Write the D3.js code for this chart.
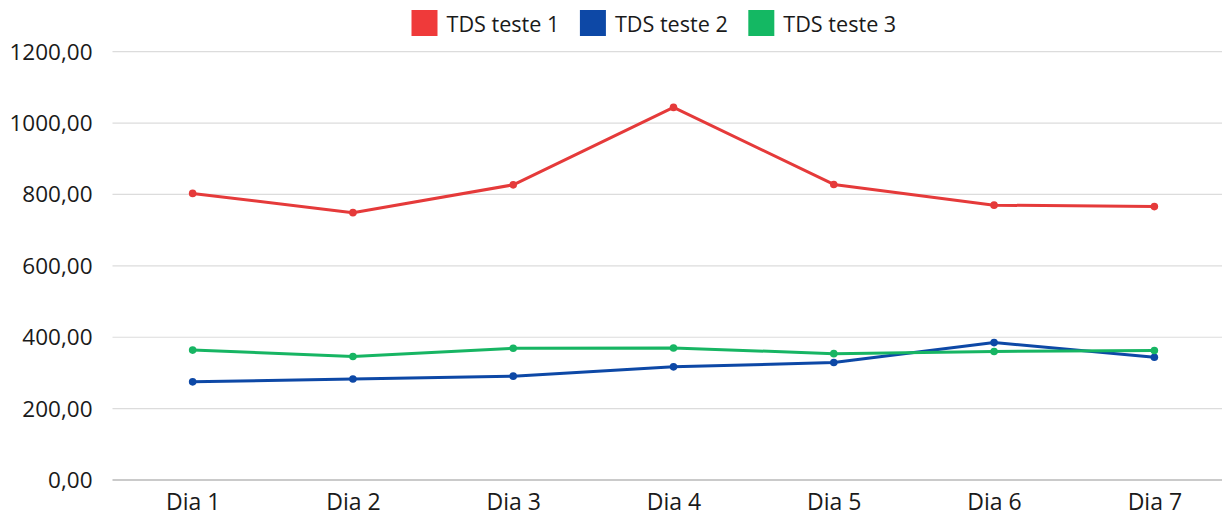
<!DOCTYPE html>
<html><head><meta charset="utf-8">
<script src="https://cdn.jsdelivr.net/npm/d3@7"></script>
<style>body{margin:0;background:#fff}svg{display:block;font-family:"Open Sans",sans-serif}</style>
</head><body><svg id="c" width="1222" height="514"></svg>
<script>
const categories = ["Dia 1","Dia 2","Dia 3","Dia 4","Dia 5","Dia 6","Dia 7"];
const seriesNames = ["TDS teste 1","TDS teste 2","TDS teste 3"];
const teste1 = [803, 749, 827, 1044, 828, 770, 766];
const teste2 = [275, 283, 291, 317, 329, 385, 344];
const teste3 = [364, 346, 369, 370, 354, 360, 363];
const yTicks = [0, 200, 400, 600, 800, 1000, 1200];
const colors = ["#ef3a3a", "#0d48a6", "#14b863"];
const lineColors = ["#e53a3a", "#0d48a6", "#17b563"];

(function () {
const series = [teste1, teste2, teste3];
const svg = d3.select("#c");
const pLeft = 112.5, pRight = 1234.5, pTop = 51.7, pBottom = 480;
const x = d3.scalePoint().domain(categories).range([pLeft, pRight]).padding(0.5);
const y = d3.scaleLinear().domain([0, 1200]).range([pBottom, pTop]);
const fmt = v => d3.format(".2f")(v).replace(".", ",");

const ySize = 22.5, xSize = 23, lSize = 21.6;

// gridlines
svg.append("g").selectAll("line").data(yTicks).join("line")
  .attr("x1", pLeft).attr("x2", pRight)
  .attr("y1", d => y(d)).attr("y2", d => y(d))
  .attr("stroke", d => d === 0 ? "#b8b8b8" : "#dcdcdc")
  .attr("stroke-width", d => d === 0 ? 1.5 : 1.2);

// y axis
const ya = svg.append("g").attr("transform", `translate(${pLeft - 20},0)`)
  .call(d3.axisLeft(y).tickValues(yTicks).tickFormat(fmt).tickSize(0).tickPadding(0));
ya.select(".domain").remove();
ya.selectAll("text").attr("font-size", ySize).attr("fill", "#1a1a1a").attr("font-family", "Open Sans").attr("dy", "0.33em");

// x axis
const xa = svg.append("g").attr("transform", `translate(0,${pBottom})`)
  .call(d3.axisBottom(x).tickSize(0).tickPadding(0));
xa.select(".domain").remove();
xa.selectAll("text").attr("font-size", xSize).attr("fill", "#1a1a1a").attr("font-family", "Open Sans").attr("y", 30.3).attr("dy", 0);

// lines
const line = d3.line().x((d, i) => x(categories[i])).y(d => y(d));
series.forEach((s, k) => {
  const g = svg.append("g");
  g.append("path").datum(s).attr("d", line).attr("fill", "none")
    .attr("stroke", lineColors[k]).attr("stroke-width", 3).attr("stroke-linejoin", "round");
  g.selectAll("circle").data(s).join("circle")
    .attr("cx", (d, i) => x(categories[i])).attr("cy", d => y(d)).attr("r", 3.8)
    .attr("fill", lineColors[k]);
});

// legend
const lg = svg.append("g");
let lx = 411.5;
seriesNames.forEach((n, k) => {
  lg.append("rect").attr("x", lx).attr("y", 10).attr("width", 26).attr("height", 26).attr("fill", colors[k]);
  const t = lg.append("text").attr("x", lx + 35).attr("y", 32).attr("font-size", lSize)
    .attr("fill", "#1a1a1a").text(n);
  lx += 35 + t.node().getComputedTextLength() + 20.5;
});
})();
</script></body></html>
